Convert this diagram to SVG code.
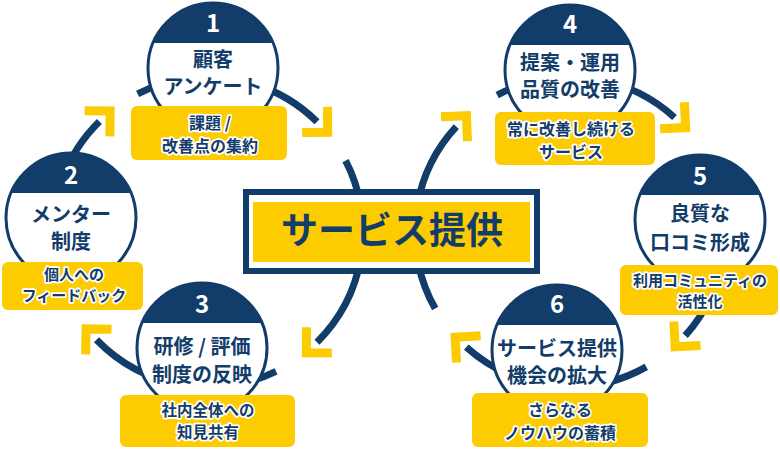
<svg xmlns="http://www.w3.org/2000/svg" width="780" height="453" viewBox="0 0 780 453">
<defs>
<style>
.loop{fill:none;stroke:#123c69;stroke-width:7}
.arr{marker-end:url(#chev)}
.ring{fill:#fff;stroke:#123c69;stroke-width:3}
.cap{fill:#123c69}
.num{font-family:"Noto Sans CJK JP",sans-serif;font-weight:700;font-size:24px;fill:#fff;text-anchor:middle}
.nt{font-family:"Noto Sans CJK JP",sans-serif;font-weight:700;font-size:20px;fill:#123c69;text-anchor:middle}
.lbl{fill:#fccb00}
.lt{font-family:"Noto Sans CJK JP",sans-serif;font-weight:700;font-size:15.5px;fill:#123c69;stroke:#fff;stroke-width:3.5;stroke-linejoin:round;paint-order:stroke;text-anchor:middle}
.ct{font-family:"Noto Sans CJK JP",sans-serif;font-weight:700;font-size:37px;fill:#123c69;text-anchor:middle}
</style>
<marker id="chev" markerUnits="userSpaceOnUse" orient="auto" markerWidth="1" markerHeight="1" refX="0" refY="0" overflow="visible">
<path d="M-3,-18 L15,0 L-3,18" fill="none" stroke="#fccb00" stroke-width="9" stroke-linejoin="miter"/>
</marker>
</defs>
<rect width="780" height="453" fill="#fff"/>
<g id="connectors">
<path class="loop arr" d="M248.1,82.3 A155,155 0 0 1 317.0,121.8"/>
<path class="loop" d="M345.6,160.7 A155,155 0 0 1 360.6,205.1"/>
<path class="loop arr" d="M360.6,258.9 A155,155 0 0 1 317.0,342.2"/>
<path class="loop" d="M276.0,371.3 A155,155 0 0 1 208,387"/>
<path class="loop arr" d="M181.1,384.6 A155,155 0 0 1 96.5,339.7"/>
<path class="loop arr" d="M62.3,179.0 A155,155 0 0 1 99.4,121.4"/>
<path class="loop" d="M137.6,93.9 A155,155 0 0 1 194.5,77.6"/>
<path class="loop arr" d="M417.4,205.1 A155,155 0 0 1 456.3,126.7"/>
<path class="loop" d="M497.2,95.1 A155,155 0 0 1 556.5,77.6"/>
<path class="loop arr" d="M596.9,79.4 A155,155 0 0 1 674.5,117.5"/>
<path class="loop arr" d="M710.5,297.5 A155,155 0 0 1 685.2,335.7"/>
<path class="loop" d="M646.3,366.9 A155,155 0 0 1 570,387"/>
<path class="loop arr" d="M529.9,381.7 A155,155 0 0 1 466.3,347.2"/>
<path class="loop" d="M435.2,308.6 A155,155 0 0 1 418.4,264.2"/>
</g>
<g id="center">
<rect x="246" y="192" width="291" height="79" fill="#fff" stroke="#123c69" stroke-width="6"/>
<rect x="253" y="202" width="277" height="60" fill="#fccb00"/>
<text class="ct" x="392" y="244">サービス提供</text>
</g>
<g id="node1">
<g transform="translate(213,68)">
<circle class="ring" r="65"/>
<path class="cap" d="M-60,-25 A65,65 0 0 1 60,-25 Z"/>
<text class="num" y="-36">1</text>
<text class="nt" y="-1">顧客</text>
<text class="nt" y="26">アンケート</text>
</g>
<rect class="lbl" x="131" y="106" width="156" height="54" rx="6"/>
<text class="lt" x="210" y="129" style="font-size:16px">課題 /</text>
<text class="lt" x="210" y="152" style="font-size:16px">改善点の集約</text>
</g>
<g id="node2">
<g transform="translate(71,218)">
<circle class="ring" r="65"/>
<path class="cap" d="M-60,-25 A65,65 0 0 1 60,-25 Z"/>
<text class="num" y="-34">2</text>
<text class="nt" y="4">メンター</text>
<text class="nt" y="31">制度</text>
</g>
<rect class="lbl" x="2" y="262" width="141" height="48" rx="6"/>
<text class="lt" x="74" y="280" style="font-size:15px">個人への</text>
<text class="lt" x="74" y="301" style="font-size:15px">フィードバック</text>
</g>
<g id="node3">
<g transform="translate(202,348)">
<circle class="ring" r="65"/>
<path class="cap" d="M-60,-25 A65,65 0 0 1 60,-25 Z"/>
<text class="num" y="-35">3</text>
<text class="nt" y="6">研修 / 評価</text>
<text class="nt" y="34">制度の反映</text>
</g>
<rect class="lbl" x="120" y="395" width="175" height="52" rx="6"/>
<text class="lt" x="208" y="416">社内全体への</text>
<text class="lt" x="208" y="438">知見共有</text>
</g>
<g id="node4">
<g transform="translate(570,70)">
<circle class="ring" r="65"/>
<path class="cap" d="M-60,-25 A65,65 0 0 1 60,-25 Z"/>
<text class="num" y="-37">4</text>
<text class="nt" y="0">提案・運用</text>
<text class="nt" y="27">品質の改善</text>
</g>
<rect class="lbl" x="495" y="112" width="160" height="53" rx="6"/>
<text class="lt" x="571" y="135" style="font-size:16px">常に改善し続ける</text>
<text class="lt" x="571" y="158" style="font-size:16px">サービス</text>
</g>
<g id="node5">
<g transform="translate(700,220)">
<circle class="ring" r="65"/>
<path class="cap" d="M-60,-25 A65,65 0 0 1 60,-25 Z"/>
<text class="num" y="-35">5</text>
<text class="nt" y="1">良質な</text>
<text class="nt" y="30">口コミ形成</text>
</g>
<rect class="lbl" x="620" y="265" width="158" height="50" rx="6"/>
<text class="lt" x="700" y="286" style="font-size:15px">利用コミュニティの</text>
<text class="lt" x="700" y="307" style="font-size:15px">活性化</text>
</g>
<g id="node6">
<g transform="translate(557,350)">
<circle class="ring" r="65"/>
<path class="cap" d="M-60,-25 A65,65 0 0 1 60,-25 Z"/>
<text class="num" y="-37">6</text>
<text class="nt" y="6">サービス提供</text>
<text class="nt" y="33">機会の拡大</text>
</g>
<rect class="lbl" x="472" y="393" width="176" height="54" rx="6"/>
<text class="lt" x="560" y="416" style="font-size:16px">さらなる</text>
<text class="lt" x="560" y="439" style="font-size:16px">ノウハウの蓄積</text>
</g>
</svg>
